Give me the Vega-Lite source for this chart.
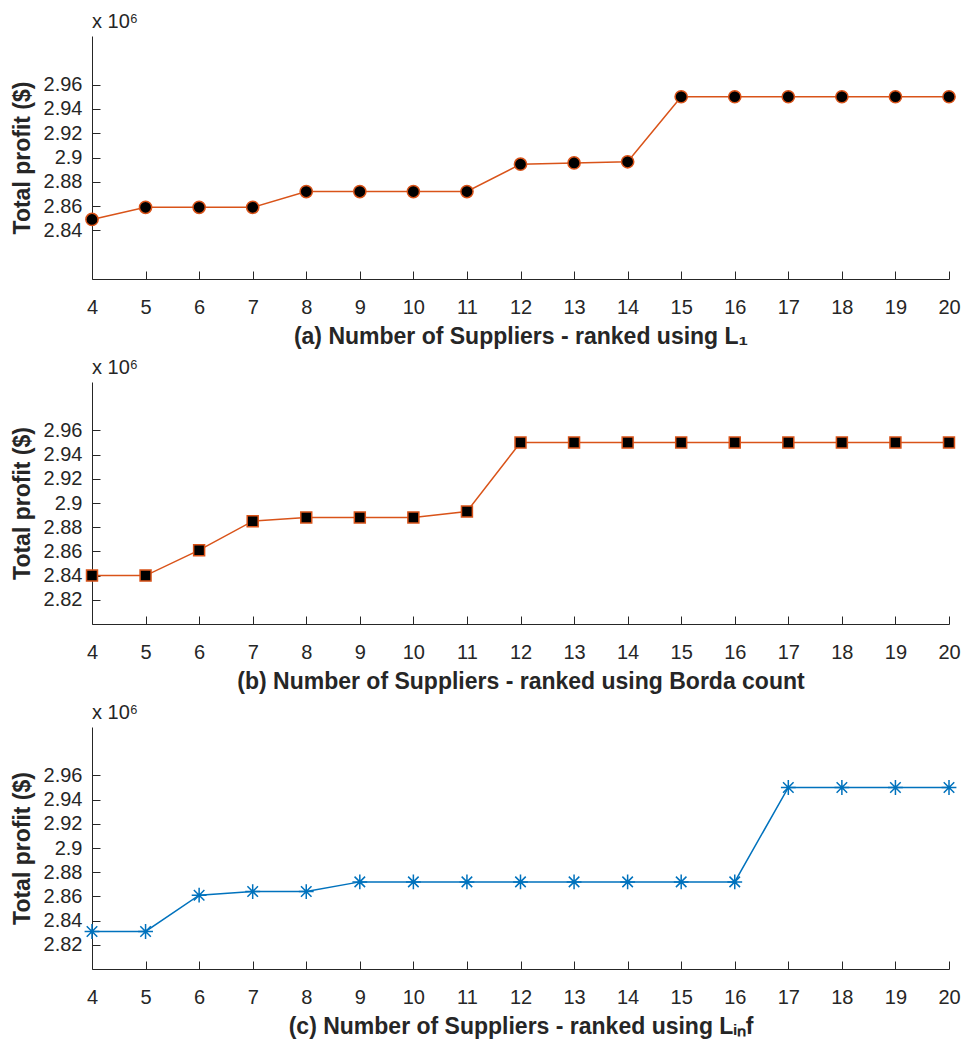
{
  "$schema": "https://vega.github.io/schema/vega-lite/v6.json",
  "padding": {"left": 11, "top": 12, "right": 5, "bottom": 5},
  "spacing": 10,
  "config": {
    "font": "Liberation Sans",
    "view": {"stroke": null},
    "axis": {
      "domainColor": "#262626", "tickColor": "#262626", "labelColor": "#262626", "titleColor": "#262626",
      "labelFont": "Liberation Sans", "labelFontSize": 20, "titleFont": "Liberation Sans", "titleFontSize": 23,
      "titleFontWeight": "bold", "grid": false, "tickSize": -8, "domainWidth": 1, "tickWidth": 1, "labelFlush": false
    },
    "axisX": {"labelPadding": 26, "titlePadding": 8},
    "axisY": {"labelPadding": 18, "titlePadding": 9},
    "title": {"fontSize": 20, "fontWeight": "normal", "color": "#262626", "anchor": "start", "frame": "group", "offset": 4, "font": "Liberation Sans"}
  },
  "datasets": {
    "l1": [
      {"n": 4, "profit": 2.849}, {"n": 5, "profit": 2.859}, {"n": 6, "profit": 2.859}, {"n": 7, "profit": 2.859},
      {"n": 8, "profit": 2.872}, {"n": 9, "profit": 2.872}, {"n": 10, "profit": 2.872}, {"n": 11, "profit": 2.872},
      {"n": 12, "profit": 2.8945}, {"n": 13, "profit": 2.8955}, {"n": 14, "profit": 2.8965}, {"n": 15, "profit": 2.95},
      {"n": 16, "profit": 2.95}, {"n": 17, "profit": 2.95}, {"n": 18, "profit": 2.95}, {"n": 19, "profit": 2.95}, {"n": 20, "profit": 2.95}
    ],
    "borda": [
      {"n": 4, "profit": 2.84}, {"n": 5, "profit": 2.84}, {"n": 6, "profit": 2.861}, {"n": 7, "profit": 2.885},
      {"n": 8, "profit": 2.888}, {"n": 9, "profit": 2.888}, {"n": 10, "profit": 2.888}, {"n": 11, "profit": 2.893},
      {"n": 12, "profit": 2.95}, {"n": 13, "profit": 2.95}, {"n": 14, "profit": 2.95}, {"n": 15, "profit": 2.95},
      {"n": 16, "profit": 2.95}, {"n": 17, "profit": 2.95}, {"n": 18, "profit": 2.95}, {"n": 19, "profit": 2.95}, {"n": 20, "profit": 2.95}
    ],
    "linf": [
      {"n": 4, "profit": 2.831}, {"n": 5, "profit": 2.831}, {"n": 6, "profit": 2.861}, {"n": 7, "profit": 2.864},
      {"n": 8, "profit": 2.864}, {"n": 9, "profit": 2.872}, {"n": 10, "profit": 2.872}, {"n": 11, "profit": 2.872},
      {"n": 12, "profit": 2.872}, {"n": 13, "profit": 2.872}, {"n": 14, "profit": 2.872}, {"n": 15, "profit": 2.872},
      {"n": 16, "profit": 2.872}, {"n": 17, "profit": 2.95}, {"n": 18, "profit": 2.95}, {"n": 19, "profit": 2.95}, {"n": 20, "profit": 2.95}
    ]
  },
  "vconcat": [
    {
      "title": "x 10⁶",
      "width": 857, "height": 243,
      "data": {"name": "l1"},
      "encoding": {
        "x": {"field": "n", "type": "quantitative", "scale": {"domain": [4, 20], "nice": false},
              "axis": {"values": [4,5,6,7,8,9,10,11,12,13,14,15,16,17,18,19,20], "format": "d", "title": "(a) Number of Suppliers - ranked using L₁"}},
        "y": {"field": "profit", "type": "quantitative", "scale": {"domain": [2.8, 3.0], "zero": false, "nice": false},
              "axis": {"values": [2.84, 2.86, 2.88, 2.9, 2.92, 2.94, 2.96], "format": ".2~f", "title": "Total profit ($)"}}
      },
      "layer": [
        {"mark": {"type": "line", "color": "#D95319", "strokeWidth": 1.5}},
        {"mark": {"type": "point", "shape": "circle", "filled": true, "fill": "#000000", "stroke": "#D95319", "strokeWidth": 1.5, "size": 150, "opacity": 1}}
      ]
    },
    {
      "title": "x 10⁶",
      "width": 857, "height": 242,
      "data": {"name": "borda"},
      "encoding": {
        "x": {"field": "n", "type": "quantitative", "scale": {"domain": [4, 20], "nice": false},
              "axis": {"values": [4,5,6,7,8,9,10,11,12,13,14,15,16,17,18,19,20], "format": "d", "title": "(b) Number of Suppliers - ranked using Borda count"}},
        "y": {"field": "profit", "type": "quantitative", "scale": {"domain": [2.8, 3.0], "zero": false, "nice": false},
              "axis": {"values": [2.82, 2.84, 2.86, 2.88, 2.9, 2.92, 2.94, 2.96], "format": ".2~f", "title": "Total profit ($)"}}
      },
      "layer": [
        {"mark": {"type": "line", "color": "#D95319", "strokeWidth": 1.5}},
        {"mark": {"type": "point", "shape": "square", "filled": true, "fill": "#000000", "stroke": "#D95319", "strokeWidth": 1.5, "size": 120, "opacity": 1}}
      ]
    },
    {
      "title": "x 10⁶",
      "width": 857, "height": 242,
      "data": {"name": "linf"},
      "encoding": {
        "x": {"field": "n", "type": "quantitative", "scale": {"domain": [4, 20], "nice": false},
              "axis": {"values": [4,5,6,7,8,9,10,11,12,13,14,15,16,17,18,19,20], "format": "d", "title": "(c) Number of Suppliers - ranked using Lᵢₙf"}},
        "y": {"field": "profit", "type": "quantitative", "scale": {"domain": [2.8, 3.0], "zero": false, "nice": false},
              "axis": {"values": [2.82, 2.84, 2.86, 2.88, 2.9, 2.92, 2.94, 2.96], "format": ".2~f", "title": "Total profit ($)"}}
      },
      "layer": [
        {"mark": {"type": "line", "color": "#0072BD", "strokeWidth": 1.5}},
        {"mark": {"type": "point", "shape": "M-1,0L1,0M0,-1L0,1M-0.71,-0.71L0.71,0.71M-0.71,0.71L0.71,-0.71", "filled": false, "stroke": "#0072BD", "strokeWidth": 1.5, "size": 220, "opacity": 1}}
      ]
    }
  ]
}
